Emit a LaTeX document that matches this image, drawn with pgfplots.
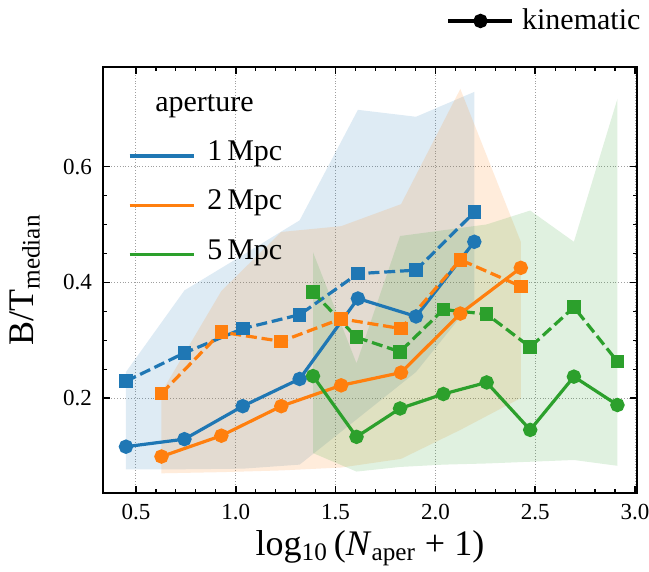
\documentclass[border=0pt]{standalone}
\usepackage{fontspec}
\setmainfont{Liberation Serif}
\usepackage{pgfplots}
\pgfplotsset{compat=1.18}
\usepackage{pgfplotstable}
\usepgfplotslibrary{fillbetween}

\definecolor{tabblue}{HTML}{1F77B4}
\definecolor{taborange}{HTML}{FF7F0E}
\definecolor{tabgreen}{HTML}{2CA02C}

% x: log10(N_aper+1); kin: kinematic median (solid, circles);
% dash: second median (dashed, squares); lo/hi: spread of the band
\pgfplotstableread{
x     kin   dash  lo    hi
0.450 0.116 0.229 0.077 0.245
0.743 0.129 0.278 0.077 0.386
1.035 0.186 0.320 0.078 0.447
1.320 0.233 0.344 0.085 0.507
1.612 0.372 0.415 0.165 0.698
1.903 0.341 0.421 0.245 0.686
2.195 0.470 0.521 0.370 0.729
}\apone

\pgfplotstableread{
x     kin   dash  lo    hi
0.628 0.099 0.208 0.070 0.210
0.928 0.135 0.314 0.072 0.385
1.228 0.186 0.298 0.075 0.487
1.528 0.222 0.337 0.080 0.497
1.828 0.244 0.320 0.095 0.535
2.125 0.346 0.439 0.145 0.734
2.428 0.425 0.393 0.200 0.470
}\aptwo

\pgfplotstableread{
x     kin   dash  lo    hi
1.387 0.238 0.383 0.105 0.452
1.605 0.133 0.305 0.073 0.260
1.823 0.182 0.280 0.081 0.480
2.040 0.207 0.353 0.085 0.490
2.257 0.227 0.345 0.087 0.500
2.475 0.145 0.288 0.090 0.524
2.694 0.237 0.357 0.093 0.470
2.912 0.188 0.263 0.083 0.717
}\apfive

\pgfplotsset{
  bandstyle/.style={draw=none, fill opacity=0.15, forget plot},
  kinline/.style={#1, line width=1.6pt, mark=*, mark size=2.8pt, forget plot},
  dashline/.style={#1, line width=1.6pt, dash pattern=on 5.5pt off 2.4pt,
    mark=square*, mark size=2.6pt, mark options={solid}, forget plot},
}

\begin{document}
\begin{tikzpicture}
\begin{axis}[
  scale only axis, width=267pt, height=213pt,
  xmin=0.335, xmax=3.01, ymin=0.036, ymax=0.772,
  xtick={0.5,1.0,1.5,2.0,2.5,3.0}, ytick={0.2,0.4,0.6},
  minor x tick num=4, minor y tick num=3,
  tick align=inside,
  major tick length=3.5pt, minor tick length=1.8pt,
  every tick/.style={black, line width=0.8pt},
  every minor tick/.append style={line width=0.6pt},
  axis line style={line width=1pt},
  grid=major,
  major grid style={densely dotted, gray!75, line width=0.5pt},
  /pgf/number format/assume math mode=true,
  ticklabel style={font=\fontsize{11.5}{13}\selectfont},
  xticklabel style={/pgf/number format/.cd, fixed, fixed zerofill, precision=1, /tikz/.cd, yshift=-2pt},
  yticklabel style={/pgf/number format/.cd, fixed, fixed zerofill, precision=1, /tikz/.cd, xshift=-2pt},
  label style={font=\fontsize{18}{20}\selectfont},
  xlabel={log\textsubscript{10}\,(\textit{N}\textsubscript{aper} + 1)},
  ylabel={B/T\textsubscript{median}},
  xlabel style={at={(axis description cs:0.5,-0.129)}, anchor=center},
  ylabel style={at={(axis description cs:-0.146,0.5)}, anchor=center},
  legend cell align=left,
  legend style={at={(axis description cs:0.035,0.949)}, anchor=north west,
    draw=none, fill=none, font=\fontsize{15}{17}\selectfont,
    row sep=11pt, nodes={inner sep=2pt, text height=0.72em, text depth=0.24em}},
  legend image code/.code={\draw[#1] (0pt,0pt) -- (32pt,0pt); \path (36pt,0pt);},
]
% spread bands
\addplot[name path=hiA, draw=none, forget plot] table[x=x, y=hi] {\apone};
\addplot[name path=loA, draw=none, forget plot] table[x=x, y=lo] {\apone};
\addplot[bandstyle, fill=tabblue] fill between[of=hiA and loA];
\addplot[name path=hiB, draw=none, forget plot] table[x=x, y=hi] {\aptwo};
\addplot[name path=loB, draw=none, forget plot] table[x=x, y=lo] {\aptwo};
\addplot[bandstyle, fill=taborange] fill between[of=hiB and loB];
\addplot[name path=hiC, draw=none, forget plot] table[x=x, y=hi] {\apfive};
\addplot[name path=loC, draw=none, forget plot] table[x=x, y=lo] {\apfive};
\addplot[bandstyle, fill=tabgreen] fill between[of=hiC and loC];

% medians
\addplot[kinline=tabblue]  table[x=x, y=kin]  {\apone};
\addplot[dashline=tabblue] table[x=x, y=dash] {\apone};
\addplot[kinline=taborange]  table[x=x, y=kin]  {\aptwo};
\addplot[dashline=taborange] table[x=x, y=dash] {\aptwo};
\addplot[kinline=tabgreen]  table[x=x, y=kin]  {\apfive};
\addplot[dashline=tabgreen] table[x=x, y=dash] {\apfive};

\addlegendimage{empty legend}
\addlegendentry{\hspace{-26pt}aperture}
\addlegendimage{tabblue, line width=1.6pt}
\addlegendentry{1\,Mpc}
\addlegendimage{taborange, line width=1.6pt}
\addlegendentry{2\,Mpc}
\addlegendimage{tabgreen, line width=1.6pt}
\addlegendentry{5\,Mpc}
\end{axis}

% line-style key above the frame
\begin{axis}[
  scale only axis, width=267pt, height=213pt,
  xmin=0, xmax=1, ymin=0, ymax=1, hide axis,
  legend style={at={(axis description cs:0.632,1.108)}, anchor=west,
    draw=none, fill=none, font=\fontsize{15}{17}\selectfont,
    nodes={inner sep=2pt}},
  legend image code/.code={\draw[mark repeat=2, mark phase=2, #1]
    plot coordinates {(0pt,0pt) (16pt,0pt) (32pt,0pt)}; \path (34pt,0pt);},
]
\addplot[draw=none, forget plot] coordinates {(0.5,0.5)};
\addlegendimage{black, line width=1.6pt, mark=*, mark size=2.8pt}
\addlegendentry{kinematic}
\end{axis}

\pgfresetboundingbox
\useasboundingbox (-51.5pt,-39.5pt) rectangle (273pt,246.5pt);
\end{tikzpicture}
\end{document}
